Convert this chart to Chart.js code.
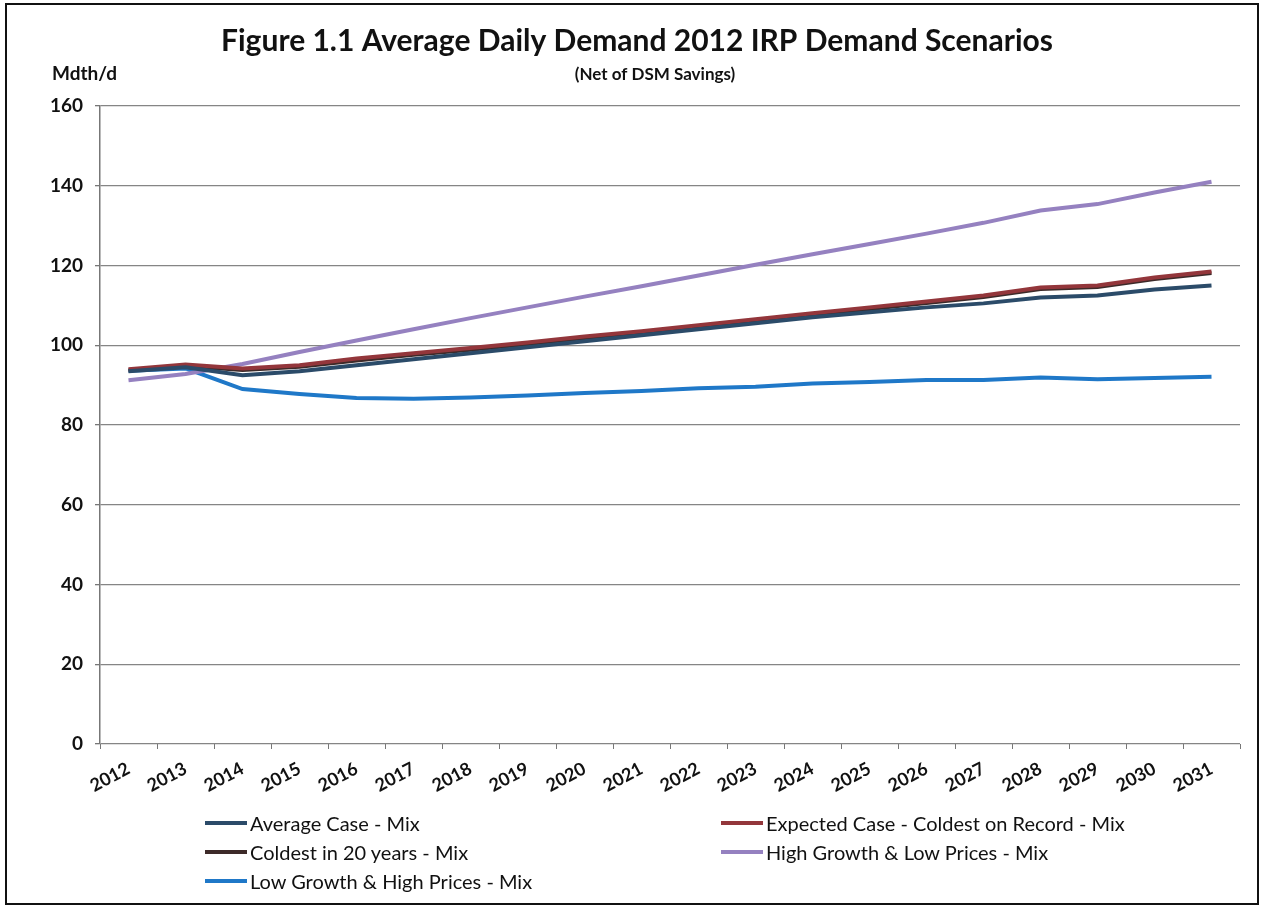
<!DOCTYPE html>
<html>
<head>
  <meta charset="utf-8">
  <title>Figure 1.1 Average Daily Demand</title>
  <script src="https://cdn.jsdelivr.net/npm/chart.js@4.4.0/dist/chart.umd.min.js"></script>
  <style>
  body { margin:0; background:#fff; font-family:Lato, "Open Sans", sans-serif; }
  #wrap { position:relative; width:1263px; height:905px; }
  #frame { position:absolute; left:5px; top:3px; width:1250px; height:898px; border:2px solid #111; pointer-events:none; }
  #unit { position:absolute; left:52px; top:61px; font-weight:bold; font-size:19px; color:#111; }
  #legend { position:absolute; left:205px; top:811px; width:1000px;
            display:grid; grid-template-columns:516px 480px; row-gap:5px; }
  .item { display:flex; align-items:center; font-size:20px; color:#111; height:24px; }
  .swatch { width:42px; height:4px; margin-right:3px; }
  </style>
</head>
<body>
<div id="wrap">
  <canvas id="myChart" width="1263" height="905"></canvas>
  <div id="unit">Mdth/d</div>
  <div id="legend"></div>
  <div id="frame"></div>
</div>

<script>
// values (Mdth/d)
var years = ['2012','2013','2014','2015','2016','2017','2018','2019','2020','2021',
             '2022','2023','2024','2025','2026','2027','2028','2029','2030','2031'];

var averageCase = [93.5,94.5,92.5,93.5,95,96.5,98,99.5,101,102.5,104,105.5,107,108.3,109.5,110.5,112,112.5,114,115];
var expectedCase = [94,95.2,94.2,95,96.7,98,99.3,100.7,102.2,103.5,105,106.5,108,109.5,111,112.5,114.5,115,117,118.5];
var coldest20 = [93.7,94.8,93.8,94.6,96.2,97.6,98.9,100.3,101.8,103.1,104.6,106.1,107.6,109.1,110.6,112.1,114.1,114.6,116.6,118.1];
var highGrowth = [91.2,92.8,95.3,98.3,101.2,104,106.8,109.5,112.2,114.8,117.5,120.2,122.8,125.4,128,130.7,133.8,135.4,138.3,141];
var lowGrowth = [93.6,94.2,89,87.8,86.8,86.6,86.9,87.4,88,88.5,89.2,89.6,90.4,90.8,91.3,91.3,91.9,91.5,91.8,92.1];

var seriesNames = ['Average Case - Mix','Expected Case - Coldest on Record - Mix','Coldest in 20 years - Mix',
                   'High Growth & Low Prices - Mix','Low Growth & High Prices - Mix'];
var seriesColors = ['#2b4b69','#93363b','#3d2a29','#9581c0','#1f78c8'];
var seriesData = [averageCase, expectedCase, coldest20, highGrowth, lowGrowth];

var datasets = [];
for (var i = 0; i < seriesData.length; i++) {
  datasets.push({
    label: seriesNames[i],
    data: seriesData[i],
    borderColor: seriesColors[i],
    backgroundColor: seriesColors[i],
    borderWidth: 4,
    pointRadius: 0,
    tension: 0,
    fill: false
  });
}

// subtitle sits a bit right of the title's centre in the original
var subtitleText = {
  id: 'subtitleText',
  afterDraw: function(chart) {
    var c = chart.ctx;
    c.save();
    c.font = 'bold 17px Lato';
    c.fillStyle = '#111';
    c.textAlign = 'center';
    c.textBaseline = 'middle';
    c.fillText('(Net of DSM Savings)', 655, 75);
    c.restore();
  }
};

var ctx = document.getElementById('myChart').getContext('2d');
var myChart = new Chart(ctx, {
  type: 'line',
  data: { labels: years, datasets: datasets },
  plugins: [subtitleText],
  options: {
    responsive: false,
    animation: false,
    layout: { padding: { left: 34, right: 23, top: 0, bottom: 0 } },
    plugins: {
      legend: { display: false },
      tooltip: { enabled: false },
      title: {
        display: true,
        text: 'Figure 1.1 Average Daily Demand 2012 IRP Demand Scenarios',
        color: '#111',
        font: { family: 'Lato', size: 30, weight: 'bold', lineHeight: 1.2 },
        padding: { top: 23, bottom: 47 }
      }
    },
    scales: {
      x: {
        offset: true,
        grid: { offset: true, drawOnChartArea: false, drawTicks: true, tickLength: 5, tickColor: '#777' },
        border: { display: false },
        ticks: {
          minRotation: 28, maxRotation: 28, padding: 9, color: '#111',
          font: { family: 'Lato', size: 18, weight: 'bold' }
        },
        afterFit: function(scale) { scale.height = 161; }
      },
      y: {
        min: 0, max: 160,
        ticks: { stepSize: 20, padding: 12, color: '#111', font: { family: 'Lato', size: 19, weight: 'bold' } },
        grid: { color: '#858585', lineWidth: 1.3, tickLength: 5, tickColor: '#777' },
        border: { color: '#777', width: 1.5 },
        afterFit: function(scale) { scale.width = 66; }
      }
    }
  }
});

// legend built from the chart's datasets, two columns like the original
var legendBox = document.getElementById('legend');
myChart.data.datasets.forEach(function(ds) {
  var item = document.createElement('div');
  item.className = 'item';
  var sw = document.createElement('span');
  sw.className = 'swatch';
  sw.style.background = ds.borderColor;
  item.appendChild(sw);
  item.appendChild(document.createTextNode(ds.label));
  legendBox.appendChild(item);
});
</script>
</body>
</html>
